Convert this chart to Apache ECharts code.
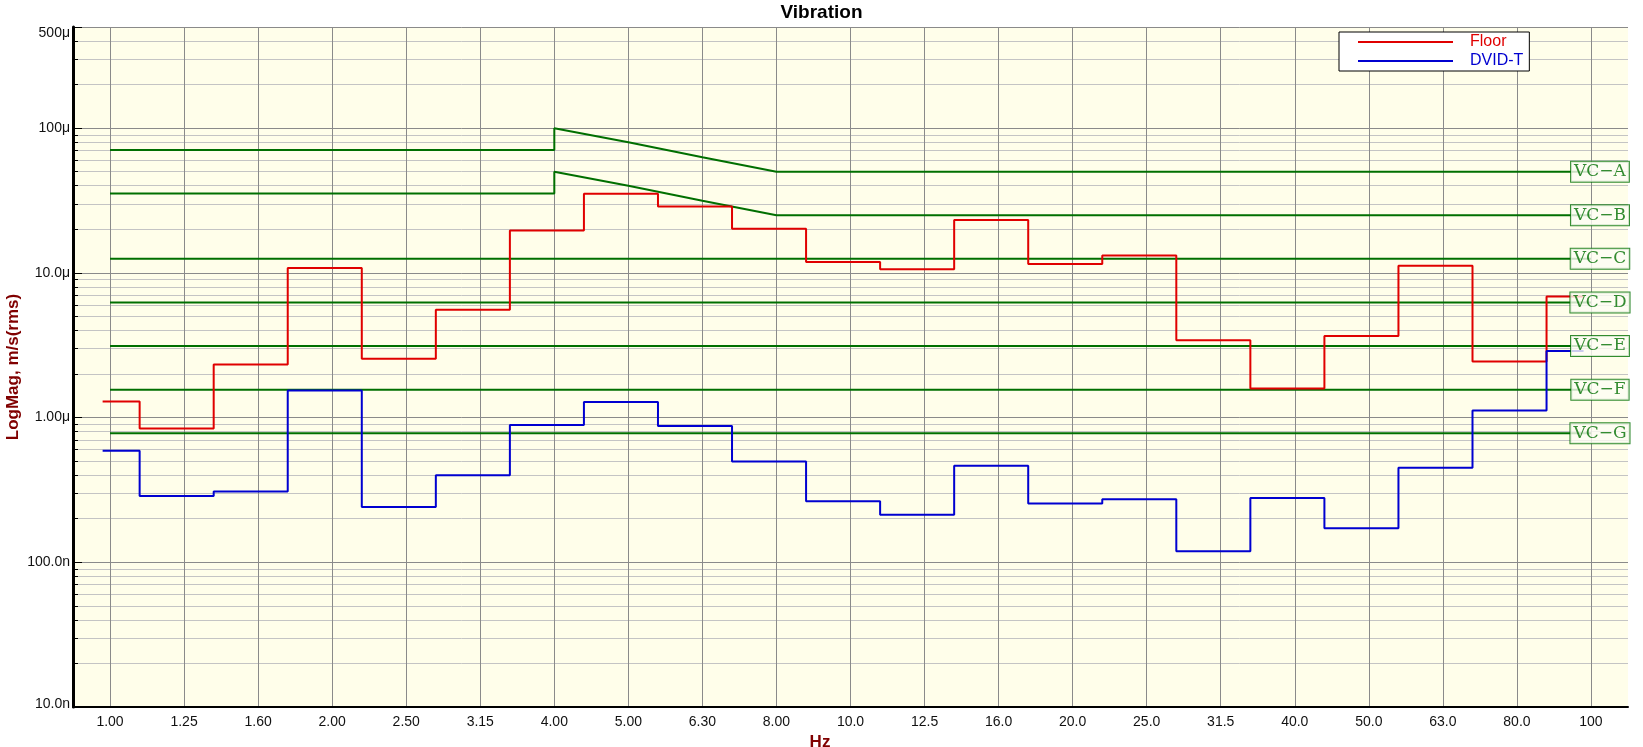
<!DOCTYPE html>
<html><head><meta charset="utf-8">
<script src="https://cdn.jsdelivr.net/npm/echarts@6/dist/echarts.min.js"></script>
<style>html,body{margin:0;padding:0;background:#fff}#c{width:1643px;height:747px}</style>
</head><body><div id="c"></div>
<script>
// third-octave band centres (Hz)
const bands = ['1.00','1.25','1.60','2.00','2.50','3.15','4.00','5.00','6.30','8.00','10.0','12.5','16.0','20.0','25.0','31.5','40.0','50.0','63.0','80.0','100'];
// velocity, micro m/s rms
const floorVals = [1.29,0.84,2.33,10.8,2.55,5.56,19.6,35.2,28.7,20.2,11.9,10.6,23.2,11.5,13.2,3.42,1.59,3.66,11.2,2.44,6.87];
const dvidVals  = [0.589,0.287,0.309,1.54,0.241,0.40,0.889,1.28,0.875,0.497,0.264,0.213,0.465,0.255,0.273,0.119,0.278,0.172,0.45,1.12,2.88];
// vibration criteria (micro m/s)
const vcNames  = ['VC\u2212A','VC\u2212B','VC\u2212C','VC\u2212D','VC\u2212E','VC\u2212F','VC\u2212G'];
const vcLevels = [50, 25, 12.5, 6.25, 3.12, 1.56, 0.78];
const vcABFreqs = ['1.00','4.00','4.00','5.00','6.30','8.00','100'];
const vcAVals   = [70.7, 70.7, 100, 80, 63, 50, 50];
const vcBVals   = [35.4, 35.4, 50, 40, 31.5, 25, 25];
const vcFlatFreqs = ['1.00','100'];
// y tick labels
const yTickVals   = [1e-8, 1e-7, 1e-6, 1e-5, 1e-4, 5e-4];
const yTickLabels = ['10.0n','100.0n','1.00\u03bc','10.0\u03bc','100\u03bc','500\u03bc'];

const U = 1e-6;
const GREEN = '#006f00', RED = '#e00000', BLUE = '#0000d0';
const BAND_SHIFT = 0.1; // visual placement of band steps

function vcSeriesData(i){
  if (i === 0) return vcABFreqs.map((f,k)=>[f, vcAVals[k]*U]);
  if (i === 1) return vcABFreqs.map((f,k)=>[f, vcBVals[k]*U]);
  return vcFlatFreqs.map(f=>[f, vcLevels[i]*U]);
}

const series = [];
vcNames.forEach((n,i)=>{
  series.push({
    name: n, type: 'line', xAxisIndex: 0, yAxisIndex: 0,
    data: vcSeriesData(i), symbol: 'none', silent: true, z: 2,
    lineStyle: {color: GREEN, width: 2}, itemStyle: {color: GREEN}
  });
});
series.push({
  name: 'Floor', type: 'line', xAxisIndex: 1, step: 'middle', z: 3,
  data: floorVals.map((v,i)=>[i, v*U]), symbol: 'none',
  lineStyle: {color: RED, width: 2}, itemStyle: {color: RED}
});
series.push({
  name: 'DVID-T', type: 'line', xAxisIndex: 1, step: 'middle', z: 3,
  data: dvidVals.map((v,i)=>[i, v*U]), symbol: 'none',
  lineStyle: {color: BLUE, width: 2}, itemStyle: {color: BLUE}
});
series.push({
  name: 'vc-labels', type: 'scatter', xAxisIndex: 0, z: 10, silent: true,
  symbolSize: 0,
  data: vcLevels.map(v=>[bands[bands.length-1], v*U]),
  label: {
    show: true, position: 'inside', offset: [9, 0],
    formatter: p => vcNames[p.dataIndex],
    fontFamily: 'DejaVu Serif', fontSize: 17, fontWeight: 'normal', color: GREEN, lineHeight: 17,
    backgroundColor: '#fdfdf4', borderColor: GREEN, borderWidth: 1,
    padding: [2, 3, 1, 3]
  }
});

const chart = echarts.init(document.getElementById('c'), null, {renderer: 'canvas'});
chart.setOption({
  animation: false,
  backgroundColor: '#ffffff',
  textStyle: {fontFamily: 'Liberation Sans'},
  title: {text: 'Vibration', left: 'center', top: -2,
    textStyle: {fontSize: 19, fontWeight: 'bold', color: '#000', fontFamily: 'Liberation Sans'}},
  legend: {
    data: [{name: 'Floor', textStyle: {color: RED}}, {name: 'DVID-T', textStyle: {color: BLUE}}],
    orient: 'vertical', left: 1339, top: 32, icon: 'rect', itemWidth: 95, itemHeight: 2,
    itemGap: 3, backgroundColor: '#fff', borderColor: '#000', borderWidth: 1,
    padding: [2, 6, 2, 19],
    textStyle: {fontSize: 16, lineHeight: 16, padding: [0,0,0,12], fontFamily: 'Liberation Sans'}
  },
  grid: {left: 73, right: 15, top: 27, bottom: 40, show: true, backgroundColor: '#fffeea', borderWidth: 0,
    containLabel: false, outerBoundsMode: 'none'},
  xAxis: [{
    type: 'category', data: bands, boundaryGap: true,
    axisLine: {onZero: false, lineStyle: {color: '#000', width: 2}},
    axisTick: {inside: true, alignWithLabel: true, length: 8, lineStyle: {color: '#000'}},
    axisLabel: {interval: 0, fontSize: 14, color: '#111', margin: 8},
    splitLine: {show: true, alignWithLabel: true, interval: 0, lineStyle: {color: '#8a8a8a', width: 1}},
    name: 'Hz', nameLocation: 'middle', nameGap: 27, nameMoveOverlap: false,
    nameTextStyle: {fontWeight: 'bold', fontSize: 17, color: '#800000', padding: [0, 61, 0, 0]}
  }, {
    type: 'value', min: -0.5 + BAND_SHIFT, max: bands.length - 0.5 + BAND_SHIFT, show: false
  }],
  yAxis: {
    type: 'log', logBase: 10, min: yTickVals[0], max: yTickVals[yTickVals.length-1], splitNumber: 5,
    axisLine: {show: true, onZero: false, lineStyle: {color: '#000', width: 3}},
    axisTick: {show: true, inside: true, length: 9, lineStyle: {color: '#000'}},
    minorTick: {show: true, splitNumber: 9, length: 5, lineStyle: {color: '#000'}},
    minorSplitLine: {show: true, lineStyle: {color: '#c4c4c4', width: 1}},
    splitLine: {show: true, lineStyle: {color: '#8a8a8a', width: 1}},
    axisLabel: {fontSize: 14, color: '#111', margin: 3, showMaxLabel: true,
      rich: {top: {fontSize: 14, color: '#111', padding: [12, 0, 0, 0]},
             bot: {fontSize: 14, color: '#111', padding: [0, 0, 6, 0]}},
      formatter: v => {
        for (let k = 0; k < yTickVals.length; k++) {
          if (Math.abs(v / yTickVals[k] - 1) < 0.01) {
            if (k === yTickVals.length - 1) return '{top|' + yTickLabels[k] + '}';
            if (k === 0) return '{bot|' + yTickLabels[k] + '}';
            return yTickLabels[k];
          }
        }
        return '';
      }},
    name: 'LogMag, m/s(rms)', nameLocation: 'middle', nameGap: 51, nameMoveOverlap: false,
    nameTextStyle: {fontWeight: 'bold', fontSize: 17, color: '#800000'}
  },
  series: series
});
</script></body></html>
